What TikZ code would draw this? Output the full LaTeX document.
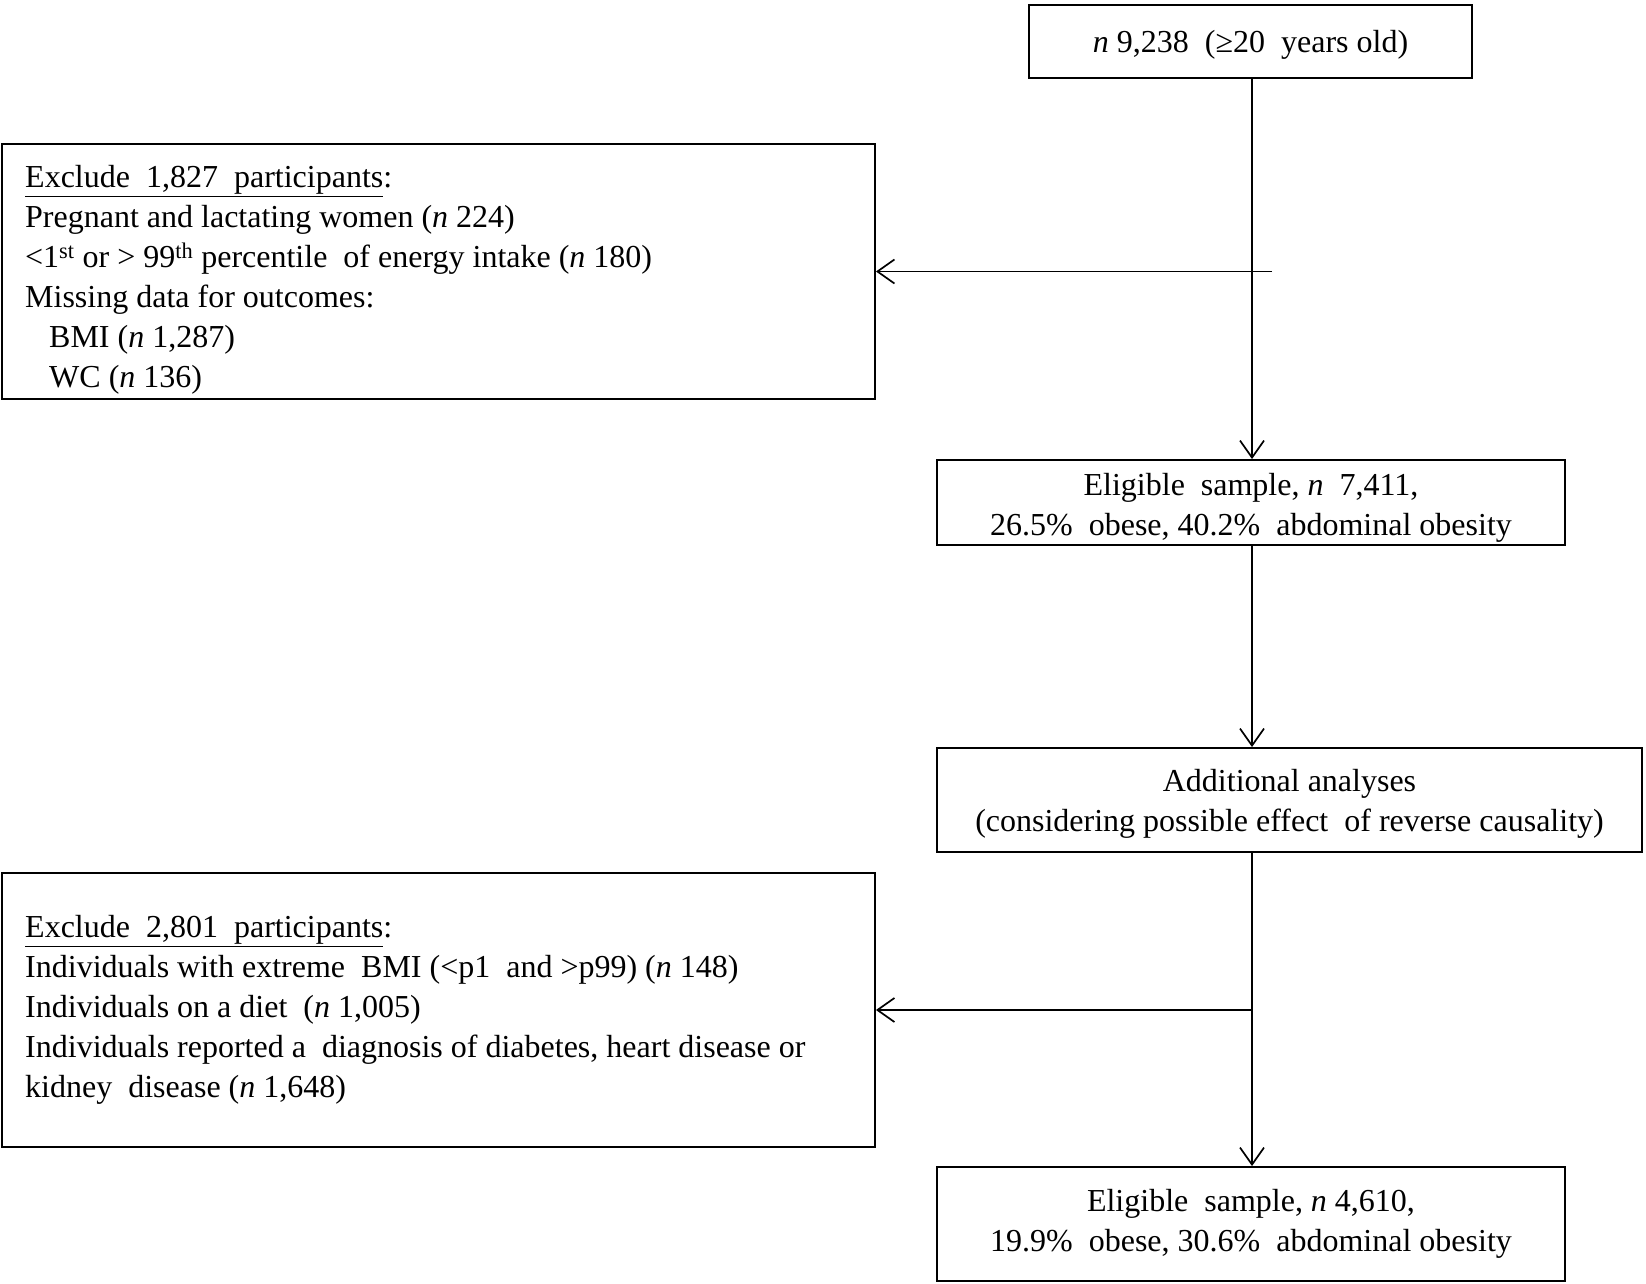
\documentclass[tikz,border=0pt]{standalone}
\usepackage{fontspec}
\setmainfont{Liberation Serif}
\usetikzlibrary{arrows.meta}
\begin{document}
\begin{tikzpicture}[x=1pt,y=-1pt,
  box/.style={draw, line width=1.9pt, inner sep=0pt},
  txt/.style={inner sep=0pt, font=\fontsize{32}{40}\selectfont},
  ctxt/.style={txt, align=center},
  ltxt/.style={txt, align=left, anchor=west},
  conn/.style={line width=1.7pt, -{Straight Barb[length=17pt,width=24pt,line width=1.7pt]}}]
\useasboundingbox (0,0) rectangle (1646,1284);
% boxes
\node[box, minimum width=443pt, minimum height=73pt] (top) at (1250.5,41.5) {};
\node[box, minimum width=873pt, minimum height=255pt] (ex1) at (438.5,271.5) {};
\node[box, minimum width=628pt, minimum height=85pt] (el1) at (1251,502.5) {};
\node[box, minimum width=705pt, minimum height=104pt] (add) at (1289.5,800) {};
\node[box, minimum width=873pt, minimum height=274pt] (ex2) at (438.5,1010) {};
\node[box, minimum width=628pt, minimum height=114pt] (el2) at (1251,1224) {};
% texts
\node[ctxt] (ttop) at (1250.5,45) {\textit{n} 9,238 \ (≥20 \ years old)};
\node[ltxt] (tex1) at (25,280)
 {\underline{Exclude \ 1,827 \ participants}:\\
  Pregnant and lactating women (\textit{n} 224)\\
  <1\textsuperscript{st} or > 99\textsuperscript{th} percentile \ of energy intake (\textit{n} 180)\\
  Missing data for outcomes:\\
  \hspace*{24pt}BMI (\textit{n} 1,287)\\
  \hspace*{24pt}WC (\textit{n} 136)};
\node[ctxt] (tel1) at (1251,508)
 {Eligible \ sample, \textit{n} \ 7,411,\\ 26.5\% \ obese, 40.2\% \ abdominal obesity};
\node[ctxt] (tadd) at (1289.5,804)
 {Additional analyses\\ (considering possible effect \ of reverse causality)};
\node[ltxt] (tex2) at (25,1010)
 {\underline{Exclude \ 2,801 \ participants}:\\
  Individuals with extreme \ BMI (<p1 \ and >p99) (\textit{n} 148)\\
  Individuals on a diet \ (\textit{n} 1,005)\\
  Individuals reported a \ diagnosis of diabetes, heart disease or\\
  kidney \ disease (\textit{n} 1,648)};
\node[ctxt] (tel2) at (1251,1224)
 {Eligible \ sample, \textit{n} 4,610,\\ 19.9\% \ obese, 30.6\% \ abdominal obesity};
% connectors
\coordinate (s1) at (1272,271.5);
\coordinate (j1) at (1252,1010);
\draw[conn] (top.south -| j1) -- (el1.north -| j1);
\draw[conn] (s1) -- (ex1.east);
\draw[conn] (el1.south -| j1) -- (add.north -| j1);
\draw[conn] (add.south -| j1) -- (el2.north -| j1);
\draw[conn] (j1) -- (ex2.east);
\end{tikzpicture}
\end{document}
